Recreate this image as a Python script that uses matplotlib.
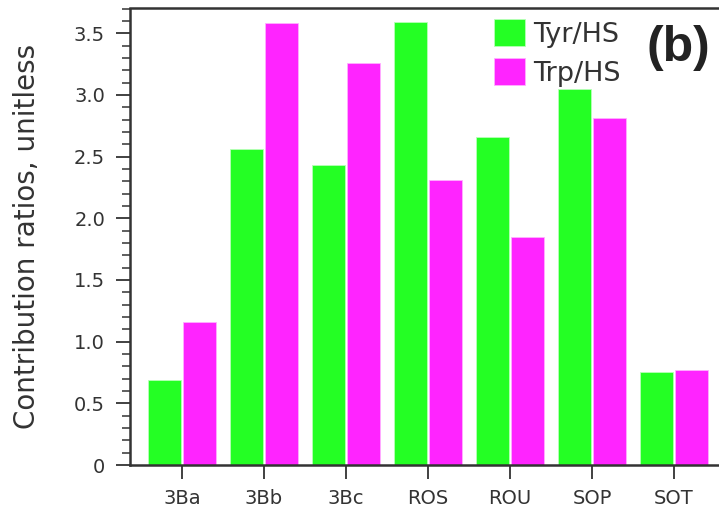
import numpy as np
import matplotlib
matplotlib.use('Agg')
import matplotlib.pyplot as plt
from matplotlib.ticker import MultipleLocator

''' data '''
sites = ['3Ba', '3Bb', '3Bc', 'ROS', 'ROU', 'SOP', 'SOT']
tyr_hs = [0.69, 2.56, 2.43, 3.59, 2.66, 3.05, 0.75]
trp_hs = [1.16, 3.58, 3.26, 2.31, 1.85, 2.81, 0.77]

''' style '''
green = '#24ff24'
magenta = '#ff24ff'
ink = '#333333'
plt.rcParams['font.family'] = 'DejaVu Sans'

fig = plt.figure(figsize=(7.19, 5.11), dpi=100)
# axes run past the right edge of the canvas on purpose
ax = fig.add_axes([130/719, 1 - 465/511, (726 - 130)/719, (465 - 8.5)/511])

x = np.arange(len(sites))
w = 0.40
ax.bar(x - 0.21, tyr_hs, w, color=green, edgecolor='#b8ffb8', linewidth=0.6, label='Tyr/HS')
ax.bar(x + 0.21, trp_hs, w, color=magenta, edgecolor='#ffb0ff', linewidth=0.6, label='Trp/HS')

ax.set_xlim(-0.634, len(sites) - 1 + 0.634)
ax.set_ylim(0, 3.70)
ax.set_xticks(x)
ax.set_xticklabels(sites)
ax.yaxis.set_minor_locator(MultipleLocator(0.1))
ax.set_yticks([0, 0.5, 1.0, 1.5, 2.0, 2.5, 3.0, 3.5])
ax.set_yticklabels(['0', '0.5', '1.0', '1.5', '2.0', '2.5', '3.0', '3.5'])

for s in ['left', 'top', 'bottom']:
    ax.spines[s].set_color(ink)
    ax.spines[s].set_linewidth(1.8)
ax.spines['right'].set_visible(False)

ax.tick_params(axis='both', which='major', direction='out', length=10, width=1.3,
               colors=ink, labelsize=14, pad=8)
ax.tick_params(axis='y', which='minor', direction='out', length=6, width=1.1, colors=ink)
ax.tick_params(axis='x', which='major', pad=7)

ax.set_ylabel('Contribution ratios, unitless', fontsize=20, color=ink, labelpad=24)

ax.legend(loc='upper left', bbox_to_anchor=(494/719, 1 - 19/511),
          bbox_transform=fig.transFigure, frameon=False, fontsize=19.5,
          handlelength=1.15, handleheight=1.15, handletextpad=0.3,
          labelspacing=0.4, borderpad=0, borderaxespad=0, labelcolor=ink)

fig.text(678/719, 1 - 48/511, '(b)', fontsize=36, fontweight='bold', color='#222222',
         family='Liberation Sans', ha='center', va='center')

fig.savefig('out.png', dpi=100)
